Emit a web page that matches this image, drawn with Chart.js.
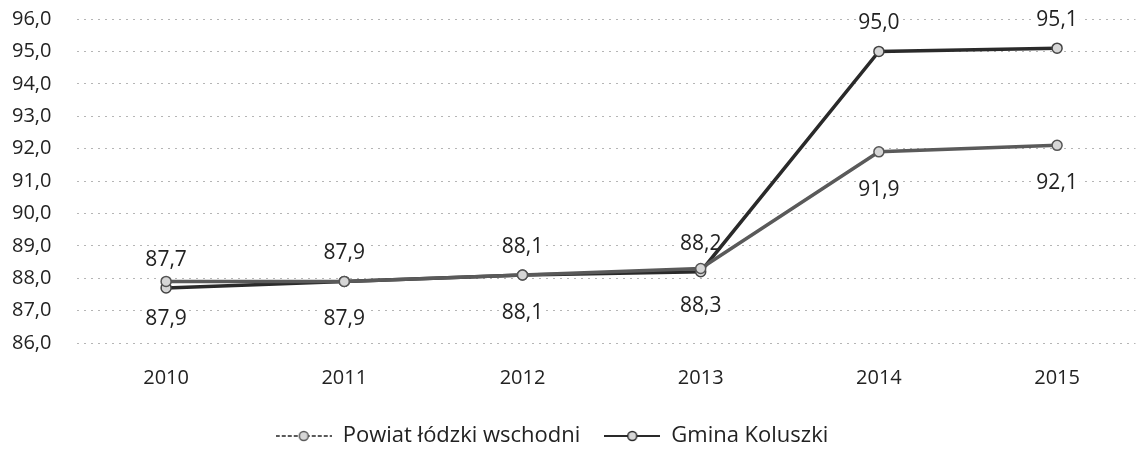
<!DOCTYPE html>
<html>
<head>
<meta charset="utf-8">
<script src="https://cdn.jsdelivr.net/npm/chart.js@4/dist/chart.umd.min.js"></script>
<style>
    body { margin: 0; background: #fff; }
    #wrap { width: 1142px; height: 457px; position: relative; }
</style>
</head>
<body>
<div id="wrap"><canvas id="chart"></canvas></div>
<script>
// values
const years = [2010, 2011, 2012, 2013, 2014, 2015];
const powiat = [87.9, 87.9, 88.1, 88.3, 91.9, 92.1];
const gmina = [87.7, 87.9, 88.1, 88.2, 95.0, 95.1];
const seriesNames = ['Powiat łódzki wschodni', 'Gmina Koluszki'];
const yTicks = [86, 87, 88, 89, 90, 91, 92, 93, 94, 95, 96];

Chart.defaults.font.family = "'Open Sans', sans-serif";
Chart.defaults.font.size = 20;
Chart.defaults.color = '#222';

function fmt(v) {
    return v.toFixed(1).replace('.', ',');
}

// small line + marker picture for the legend
function legendIcon(color, dashed) {
    const c = document.createElement('canvas');
    c.width = 56;
    c.height = 14;
    const ctx = c.getContext('2d');
    ctx.strokeStyle = color;
    ctx.lineWidth = 2;
    if (dashed) ctx.setLineDash([4, 2]);
    ctx.beginPath();
    ctx.moveTo(0, 7);
    ctx.lineTo(56, 7);
    ctx.stroke();
    ctx.setLineDash([]);
    ctx.fillStyle = '#d6d6d6';
    ctx.lineWidth = 1.5;
    ctx.beginPath();
    ctx.arc(28, 7, 4.5, 0, Math.PI * 2);
    ctx.fill();
    ctx.stroke();
    return c;
}

// value labels: first series below its points, second above
const valueLabels = {
    id: 'valueLabels',
    beforeDatasetsDraw(chart) {
        const ctx = chart.ctx;
        ctx.save();
        ctx.font = "21px 'Open Sans', sans-serif";
        ctx.textAlign = 'center';
        ctx.textBaseline = 'middle';
        chart.data.datasets.forEach((ds, di) => {
            const meta = chart.getDatasetMeta(di);
            const offset = di === 0 ? 38 : -28;
            meta.data.forEach((pt, i) => {
                const txt = fmt(ds.data[i].y);
                const x = pt.x;
                const y = pt.y + offset;
                const w = ctx.measureText(txt).width;
                ctx.fillStyle = '#fff';
                ctx.fillRect(x - w / 2 - 2, y - 11, w + 4, 22);
                ctx.fillStyle = '#222';
                ctx.fillText(txt, x, y);
            });
        });
        ctx.restore();
    }
};

// move the legend a little to the left, as in the picture
const legendShift = {
    id: 'legendShift',
    afterLayout(chart) {
        chart.legend.left -= 25;
        chart.legend.right -= 25;
    }
};

const colors = ['#5a5a5a', '#2a2a2a'];

new Chart(document.getElementById('chart'), {
    type: 'line',
    data: {
        datasets: [{
            label: seriesNames[0],
            data: years.map((yr, i) => ({ x: yr, y: powiat[i] })),
            borderColor: colors[0],
            borderWidth: 3.5,
            pointRadius: 5,
            pointBackgroundColor: '#d6d6d6',
            pointBorderColor: '#555',
            pointBorderWidth: 1.5,
            tension: 0
        }, {
            label: seriesNames[1],
            data: years.map((yr, i) => ({ x: yr, y: gmina[i] })),
            borderColor: colors[1],
            borderWidth: 3.5,
            pointRadius: 5,
            pointBackgroundColor: '#d6d6d6',
            pointBorderColor: '#444',
            pointBorderWidth: 1.5,
            tension: 0
        }]
    },
    options: {
        responsive: true,
        maintainAspectRatio: false,
        animation: false,
        layout: {
            padding: { top: 19, left: 12, right: 0, bottom: 0 }
        },
        scales: {
            x: {
                type: 'linear',
                min: 2009.5,
                max: 2015.44,
                afterBuildTicks: (axis) => {
                    axis.ticks = years.map(v => ({ value: v }));
                },
                afterFit: (axis) => {
                    axis.height = 58;
                },
                ticks: {
                    padding: 23,
                    callback: (v) => String(v),
                    maxRotation: 0,
                    autoSkip: false
                },
                grid: { display: false, drawTicks: false },
                border: { display: false }
            },
            y: {
                min: 86,
                max: 96,
                afterBuildTicks: (axis) => {
                    axis.ticks = yTicks.map(v => ({ value: v }));
                },
                afterFit: (axis) => {
                    axis.width = 65;
                },
                ticks: {
                    padding: 0,
                    crossAlign: 'far',
                    callback: (v) => fmt(v)
                },
                grid: {
                    color: '#b5b5b5',
                    lineWidth: 1,
                    drawTicks: false
                },
                border: { display: false, dash: [2, 5] }
            }
        },
        plugins: {
            legend: {
                position: 'bottom',
                labels: {
                    usePointStyle: true,
                    pointStyleWidth: 56,
                    padding: 24,
                    color: '#222',
                    font: { size: 22 },
                    generateLabels: (chart) => chart.data.datasets.map((ds, i) => ({
                        text: ds.label,
                        pointStyle: legendIcon(colors[i], i === 0),
                        fillStyle: '#fff',
                        strokeStyle: 'transparent',
                        lineWidth: 0,
                        fontColor: '#222',
                        hidden: false,
                        datasetIndex: i
                    }))
                }
            },
            tooltip: { enabled: false }
        }
    },
    plugins: [valueLabels, legendShift]
});
</script>
</body>
</html>
